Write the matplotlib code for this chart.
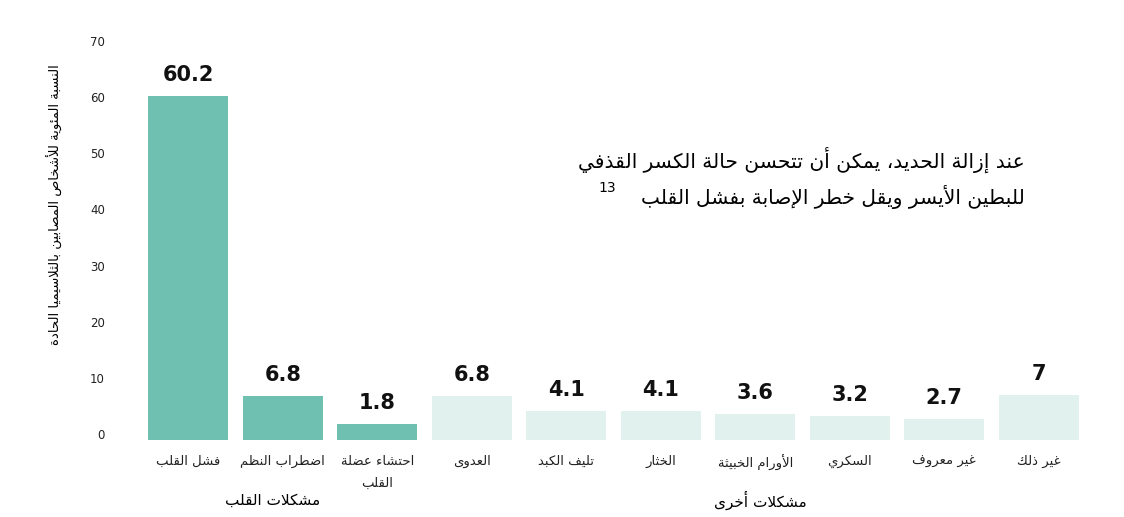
import matplotlib
matplotlib.use("Agg")
import matplotlib.pyplot as plt

categories = ["فشل القلب", "اضطراب النظم", "احتشاء عضلة\nالقلب", "العدوى", "تليف الكبد",
              "الخثار", "الأورام الخبيثة", "السكري", "غير معروف", "غير ذلك"]
values = [60.2, 6.8, 1.8, 6.8, 4.1, 4.1, 3.6, 3.2, 2.7, 7]
value_labels = ["60.2", "6.8", "1.8", "6.8", "4.1", "4.1", "3.6", "3.2", "2.7", "7"]
is_heart = [True, True, True, False, False, False, False, False, False, False]
yticks = [0, 10, 20, 30, 40, 50, 60, 70]
ylabel = "النسبة المئوية للأشخاص المصابين بالثلاسيميا الحادة"
group_labels = ["مشكلات القلب", "مشكلات أخرى"]
note_lines = ["عند إزالة الحديد، يمكن أن تتحسن حالة الكسر القذفي",
              "للبطين الأيسر ويقل خطر الإصابة بفشل القلب"]

# --- minimal Arabic shaping ---
order = [("\u0621", 1), ("\u0622", 2), ("\u0623", 2), ("\u0624", 2), ("\u0625", 2), ("\u0626", 4),
         ("\u0627", 2), ("\u0628", 4), ("\u0629", 2), ("\u062A", 4), ("\u062B", 4), ("\u062C", 4),
         ("\u062D", 4), ("\u062E", 4), ("\u062F", 2), ("\u0630", 2), ("\u0631", 2), ("\u0632", 2),
         ("\u0633", 4), ("\u0634", 4), ("\u0635", 4), ("\u0636", 4), ("\u0637", 4), ("\u0638", 4),
         ("\u0639", 4), ("\u063A", 4), ("\u0641", 4), ("\u0642", 4), ("\u0643", 4), ("\u0644", 4),
         ("\u0645", 4), ("\u0646", 4), ("\u0647", 4), ("\u0648", 2), ("\u0649", 2), ("\u064A", 4)]
FORMS = {}
cp = 0xFE80
for ch, n in order:
    FORMS[ch] = (cp, n)
    cp += n
LAMALEF = {"\u0622": 0xFEF5, "\u0623": 0xFEF7, "\u0625": 0xFEF9, "\u0627": 0xFEFB}


def dual(c):
    return c in FORMS and FORMS[c][1] == 4


def shape_word(s):
    out = []
    i = 0
    n = len(s)
    while i < n:
        c = s[i]
        if c not in FORMS:
            out.append(c)
            i += 1
            continue
        prev = s[i - 1] if i > 0 else None
        jp = prev is not None and dual(prev) and not (out and out[-1] in "\uFEF5\uFEF6\uFEF7\uFEF8\uFEF9\uFEFA\uFEFB\uFEFC")
        if c == "\u0644" and i + 1 < n and s[i + 1] in LAMALEF:
            out.append(chr(LAMALEF[s[i + 1]] + (1 if jp else 0)))
            i += 2
            continue
        nxt = s[i + 1] if i + 1 < n else None
        jn = dual(c) and nxt is not None and nxt in FORMS
        base, k = FORMS[c]
        if k == 1:
            f = base
        elif k == 2:
            f = base + (1 if jp else 0)
        else:
            if jp and jn:
                f = base + 3
            elif jp:
                f = base + 1
            elif jn:
                f = base + 2
            else:
                f = base
        out.append(chr(f))
        i += 1
    return "".join(out)


def ar(s):
    return "\n".join(shape_word(line)[::-1] for line in s.split("\n"))


plt.rcParams["font.family"] = "DejaVu Sans"
fig = plt.figure(figsize=(11.24, 5.17), dpi=100)
ax = fig.add_axes([141 / 1124, 77 / 517, 945 / 1124, 399 / 517])
ymin = -1.07
ax.set_ylim(ymin, 70)
ax.set_xlim(-0.5, 9.5)
x = list(range(len(values)))
colors = ["#70c0b1" if h else "#e1f1ed" for h in is_heart]
bars = ax.bar(x, [v - ymin for v in values], bottom=ymin, width=0.85, color=colors)
for xi, v, lab in zip(x, values, value_labels):
    ax.annotate(lab, (xi, v), xytext=(0, 8), textcoords="offset points",
                ha="center", va="bottom", fontsize=15, fontweight="bold", color="#111")
for s in ax.spines.values():
    s.set_visible(False)
ax.set_yticks(yticks)
ax.set_yticklabels([str(t) for t in yticks], fontsize=8.5, color="#222")
ax.tick_params(axis="y", length=0, pad=26)
ax.set_xticks(x)
ax.set_xticklabels([ar(c) for c in categories], fontsize=9.5, color="#222", va="top", linespacing=1.9)
ax.tick_params(axis="x", length=0, pad=11)
fig.text(55 / 1124, 1 - 205 / 517, ar(ylabel), rotation=90, ha="center", va="center", fontsize=9.5)
fig.text(273 / 1124, 1 - 500 / 517, ar(group_labels[0]), ha="center", va="center", fontsize=11)
fig.text(760 / 1124, 1 - 500 / 517, ar(group_labels[1]), ha="center", va="center", fontsize=11)
fig.text(1025 / 1124, 1 - 160 / 517, ar(note_lines[0]), ha="right", va="center", fontsize=14.5)
fig.text(1025 / 1124, 1 - 197 / 517, ar(note_lines[1]), ha="right", va="center", fontsize=14.5)
fig.text(607 / 1124, 1 - 188 / 517, "13", ha="center", va="center", fontsize=10)
fig.savefig("out.png", dpi=100, facecolor="white")
